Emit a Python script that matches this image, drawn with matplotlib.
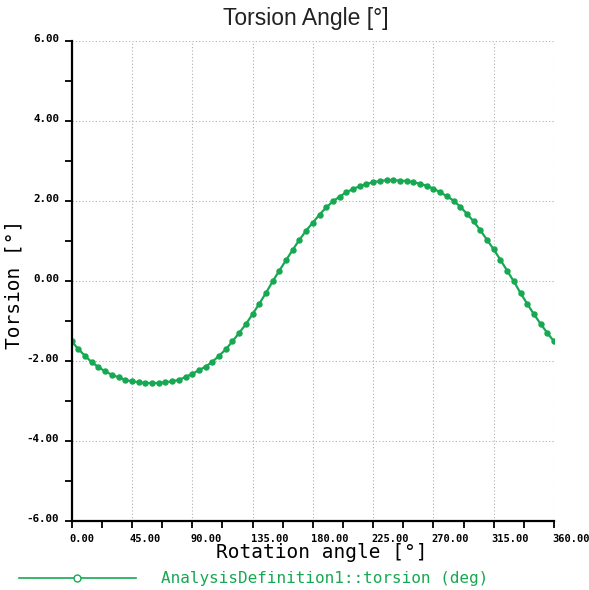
import matplotlib.pyplot as plt
import matplotlib.transforms as mtransforms
import numpy as np

# rotation angle (deg) and torsion (deg)
angle = np.arange(0, 365, 5)
torsion = np.array([
    -1.51, -1.70, -1.87, -2.03, -2.15, -2.26, -2.34, -2.41, -2.47, -2.51,
    -2.53, -2.55, -2.55, -2.55, -2.53, -2.51, -2.47, -2.40, -2.32, -2.23,
    -2.14, -2.02, -1.87, -1.71, -1.51, -1.30, -1.08, -0.83, -0.57, -0.30,
    -0.01, 0.26, 0.52, 0.78, 1.03, 1.26, 1.46, 1.66, 1.84, 1.99,
    2.11, 2.22, 2.30, 2.37, 2.43, 2.47, 2.50, 2.52, 2.52, 2.51,
    2.50, 2.47, 2.43, 2.38, 2.31, 2.22, 2.12, 2.01, 1.86, 1.68,
    1.49, 1.27, 1.03, 0.79, 0.53, 0.26, -0.01, -0.30, -0.57, -0.83,
    -1.07, -1.30, -1.51])

xticks = [0, 45, 90, 135, 180, 225, 270, 315, 360]
yticks = [-6, -4, -2, 0, 2, 4, 6]
green = '#17a852'
mono = 'DejaVu Sans Mono'

fig = plt.figure(figsize=(5.89, 5.90), dpi=100)
ax = fig.add_axes([0.1216, 0.1169, 0.8190, 0.8136])

ax.plot(angle, torsion, color=green, linewidth=1.6, marker='o', markersize=3.6,
        markerfacecolor=green, markeredgecolor=green,
        label='AnalysisDefinition1::torsion (deg)')

ax.set_xlim(0, 360)
ax.set_ylim(-6, 6)
ax.set_xticks(xticks)
ax.set_xticks([22.5 + 45 * i for i in range(8)], minor=True)
ax.set_yticks(yticks)
ax.set_yticks([-5, -3, -1, 1, 3, 5], minor=True)
ax.set_xticklabels(['%.2f' % v for v in xticks], fontfamily=mono,
                   fontweight='bold', fontsize=7.5, ha='left')
ax.set_yticklabels(['%.2f' % v for v in yticks], fontfamily=mono,
                   fontweight='bold', fontsize=7.8)

ax.tick_params(which='both', direction='out', length=5, width=1.3, color='black')
ax.tick_params(axis='x', pad=4)
ax.tick_params(axis='y', pad=4)

off_x = mtransforms.ScaledTranslation(-2 / 100, 0, fig.dpi_scale_trans)
for lab in ax.get_xticklabels():
    lab.set_transform(lab.get_transform() + off_x)
off_y = mtransforms.ScaledTranslation(0, 3 / 100, fig.dpi_scale_trans)
for lab in ax.get_yticklabels():
    lab.set_transform(lab.get_transform() + off_y)

ax.grid(True, which='major', linestyle=(0, (1, 2)), linewidth=0.8, color='#b0b0b0')
for s in ['top', 'right']:
    ax.spines[s].set_visible(False)
for s in ['left', 'bottom']:
    ax.spines[s].set_linewidth(1.6)
    ax.spines[s].set_color('black')

fig.text(0.52, 0.969, 'Torsion Angle [°]', ha='center', va='center',
         fontsize=16.5, fontfamily='Liberation Sans', color='#222222')
fig.text(0.547, 1 - 552 / 590, 'Rotation angle [°]', ha='center', va='center',
         fontsize=14, fontfamily=mono)
fig.text(14 / 589, 1 - 284 / 590, 'Torsion [°]', ha='center', va='center',
         rotation=90, fontsize=14, fontfamily=mono)

leg = fig.legend(loc='center left', bbox_to_anchor=(19 / 589, 1 - 579 / 590),
                 frameon=False, borderpad=0, borderaxespad=0, numpoints=1,
                 handlelength=7.3, handletextpad=1.6,
                 prop={'family': mono, 'size': 11.5})
leg.legend_handles[0].set_markerfacecolor('white')
leg.legend_handles[0].set_markersize(5)
leg.legend_handles[0].set_linewidth(1.2)
for t in leg.get_texts():
    t.set_color(green)

fig.savefig('out.png', dpi=100)
